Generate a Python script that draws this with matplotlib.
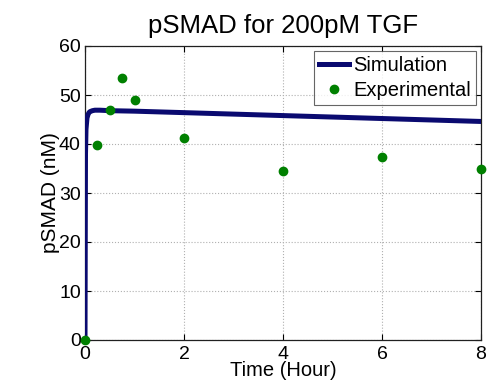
import matplotlib
matplotlib.use("Agg")
import matplotlib.pyplot as plt

# Data
sim_t = [0, 0.005, 0.01, 0.02, 0.04, 0.06, 0.08, 0.1, 0.15, 0.2, 0.3, 0.5, 1, 2, 4, 6, 8]
sim_v = [0, 20, 38, 43, 45.3, 46.0, 46.4, 46.6, 46.8, 46.9, 46.9, 46.8, 46.7, 46.4, 45.8, 45.2, 44.6]
exp_t = [0, 0.25, 0.5, 0.75, 1, 2, 4, 6, 8]
exp_v = [0, 39.8, 46.9, 53.4, 49.0, 41.2, 34.4, 37.4, 35.0]
xticks = [0, 2, 4, 6, 8]
yticks = [0, 10, 20, 30, 40, 50, 60]

plt.rcParams['font.family'] = ['Liberation Sans', 'DejaVu Sans']

fig = plt.figure(figsize=(4.98, 3.90), dpi=100)
ax = fig.add_axes([85/498, 1-340/390, (481-85)/498, (340-46)/390])

ax.plot(sim_t, sim_v, color='#0a0a70', lw=3.6, label='Simulation', zorder=3)
ax.plot(exp_t, exp_v, linestyle='none', marker='o', ms=6, color='#008000',
        label='Experimental', zorder=4, clip_on=False)

ax.set_xlim(0, 8)
ax.set_ylim(0, 60)
ax.set_xticks(xticks)
ax.set_yticks(yticks)
ax.tick_params(direction='in', labelsize=14, length=4, top=True, right=True)
ax.tick_params(axis='x', pad=4)
ax.tick_params(axis='y', pad=3)
ax.grid(True, linestyle=':', color='#b0b0b0', lw=0.8)
for s in ax.spines.values():
    s.set_color('#202020')
    s.set_linewidth(0.9)

ax.set_title('pSMAD for 200pM TGF', fontsize=18.5, pad=9)
ax.set_xlabel('Time (Hour)', fontsize=14.5, labelpad=-1)
ax.set_ylabel('pSMAD (nM)', fontsize=15, labelpad=-1)

leg = ax.legend(loc='upper right', fontsize=14.5, frameon=True, fancybox=False,
                borderpad=0.25, handlelength=1.5, handletextpad=0.2,
                labelspacing=0.3, borderaxespad=0.25)
leg.get_frame().set_edgecolor('#404040')
leg.get_frame().set_linewidth(0.8)

fig.savefig('out.png', dpi=100)
